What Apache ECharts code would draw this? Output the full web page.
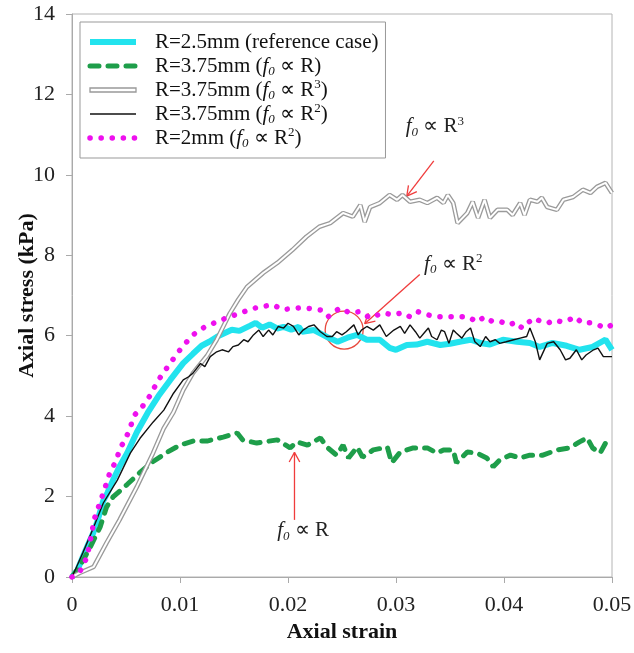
<!DOCTYPE html>
<html lang="en">
<head>
<meta charset="UTF-8">
<title>Axial stress - axial strain</title>
<script src="https://cdn.jsdelivr.net/npm/echarts@6/dist/echarts.min.js"></script>
<style>
    html,body{margin:0;padding:0;background:#fff;}
    #chart{width:634px;height:653px;}
</style>
</head>
<body>
<div id="chart"></div>
<script>
    'use strict';
    // [axial strain, axial stress (kPa)]
    var refCase = [[0,0],[0.0005,0.17],[0.001,0.5],[0.0014,0.75],[0.0019,1.05],[0.0023,1.34],[0.0029,1.9],[0.0033,2.1],
        [0.0038,2.41],[0.0044,2.75],[0.0051,3.08],[0.006,3.6],[0.007,4.08],[0.008,4.5],[0.0091,4.9],[0.0103,5.32],
        [0.0112,5.55],[0.012,5.75],[0.0127,5.85],[0.0134,5.97],[0.014,6.05],[0.0148,6.15],[0.0155,6.12],[0.0165,6.25],
        [0.017,6.32],[0.0176,6.2],[0.0183,6.28],[0.019,6.18],[0.0196,6.22],[0.0203,6.15],[0.021,6.22],[0.0213,6.1],
        [0.0224,6.14],[0.0236,5.97],[0.0246,5.85],[0.0255,5.95],[0.0264,6.02],[0.0273,5.9],[0.0285,5.9],[0.0294,5.7],
        [0.03,5.65],[0.031,5.77],[0.0319,5.78],[0.0329,5.85],[0.0341,5.77],[0.035,5.8],[0.0359,5.85],[0.0369,5.9],
        [0.0378,5.82],[0.0387,5.78],[0.0399,5.9],[0.0412,5.85],[0.0424,5.82],[0.0433,5.72],[0.0445,5.82],[0.0458,5.75],
        [0.047,5.65],[0.0482,5.72],[0.0494,5.9],[0.05,5.65]];
    var fR = [[0,0],[0.0007,0.25],[0.0017,0.75],[0.0026,1.24],[0.0032,1.74],[0.0038,1.99],[0.0051,2.3],[0.0063,2.6],
        [0.0075,2.87],[0.0088,3.1],[0.01,3.28],[0.0112,3.38],[0.0125,3.38],[0.014,3.48],[0.0153,3.58],[0.0158,3.41],
        [0.0171,3.33],[0.019,3.41],[0.0202,3.21],[0.0208,3.36],[0.0218,3.28],[0.023,3.46],[0.0236,3.23],[0.0245,3.03],
        [0.0251,3.28],[0.0256,2.96],[0.0264,3.23],[0.0269,2.98],[0.0279,3.16],[0.0292,3.23],[0.0296,2.84],[0.0304,3.11],
        [0.0316,3.21],[0.0329,3.21],[0.0338,3.08],[0.0344,3.16],[0.0353,3.16],[0.0356,2.84],[0.0366,3.11],[0.0375,3.08],
        [0.0384,2.96],[0.039,2.74],[0.0396,2.91],[0.0406,3.03],[0.0415,2.96],[0.0424,3.03],[0.0436,3.03],[0.0449,3.16],
        [0.0461,3.21],[0.047,3.36],[0.0477,3.46],[0.0482,3.21],[0.0489,3.08],[0.0494,3.33],[0.05,3.2]];
    var fR3 = [[0,0],[0.0007,0.1],[0.002,0.25],[0.0032,0.85],[0.0044,1.42],[0.006,2.24],[0.0075,3.08],[0.0085,3.7],
        [0.0094,4.1],[0.0103,4.65],[0.0112,5.07],[0.0125,5.5],[0.0134,5.9],[0.0146,6.55],[0.0154,6.9],[0.0162,7.21],
        [0.0177,7.56],[0.019,7.81],[0.0204,8.13],[0.0217,8.46],[0.0229,8.71],[0.0239,8.8],[0.0251,9.05],[0.026,8.96],
        [0.0267,9.25],[0.0271,8.83],[0.0276,9.2],[0.0285,9.3],[0.0294,9.5],[0.0301,9.38],[0.0306,9.5],[0.0313,9.33],
        [0.0322,9.38],[0.0329,9.3],[0.0338,9.43],[0.0344,9.3],[0.0348,9.5],[0.0353,9.3],[0.0357,8.8],[0.0366,9.05],
        [0.0371,9.33],[0.0376,8.93],[0.0382,9.38],[0.0387,8.93],[0.0394,9.13],[0.0403,9.13],[0.0408,9.0],[0.0415,9.3],
        [0.0419,9.0],[0.0424,9.38],[0.0431,9.33],[0.0435,9.43],[0.044,9.2],[0.0449,9.13],[0.0455,9.38],[0.0464,9.45],
        [0.0473,9.63],[0.048,9.55],[0.0486,9.7],[0.0494,9.8],[0.05,9.55]];
    var fR2 = [[0,0],[0.0005,0.3],[0.001,0.6],[0.0019,1.17],[0.0029,1.84],[0.0042,2.41],[0.0054,3.08],[0.0063,3.45],
        [0.0075,3.85],[0.0085,4.15],[0.0094,4.57],[0.0103,4.9],[0.0108,4.98],[0.0112,5.07],[0.0119,5.31],[0.0123,5.23],
        [0.0128,5.48],[0.0134,5.6],[0.0139,5.65],[0.0145,5.6],[0.0149,5.73],[0.0154,5.77],[0.0159,5.9],[0.0163,5.85],
        [0.0168,6.02],[0.0173,6.14],[0.0177,5.98],[0.0182,6.14],[0.0186,6.02],[0.0191,6.23],[0.0196,6.19],[0.02,6.31],
        [0.0205,6.23],[0.021,6.02],[0.0214,6.14],[0.0219,6.23],[0.0224,6.27],[0.023,6.1],[0.0236,5.98],[0.0241,5.98],
        [0.0245,6.1],[0.025,6.02],[0.0254,6.1],[0.0261,6.27],[0.0265,6.02],[0.0268,6.14],[0.0273,6.23],[0.0279,6.14],
        [0.0285,6.27],[0.0291,5.98],[0.0298,6.14],[0.0304,6.23],[0.0308,6.06],[0.0313,6.27],[0.0318,6.1],[0.0322,5.94],
        [0.0327,6.1],[0.033,6.19],[0.0333,5.98],[0.0338,5.9],[0.0342,6.14],[0.0345,6.1],[0.0349,5.81],[0.0353,6.14],
        [0.0356,6.06],[0.0361,5.94],[0.0365,6.1],[0.0369,6.19],[0.0373,5.85],[0.0378,5.73],[0.0383,5.98],[0.0387,5.85],
        [0.0392,5.9],[0.0396,5.81],[0.0402,5.85],[0.0409,5.9],[0.0415,5.94],[0.0421,5.98],[0.0424,6.19],[0.0429,5.85],
        [0.0433,5.4],[0.044,5.81],[0.0446,5.85],[0.0452,5.65],[0.0457,5.4],[0.0461,5.44],[0.0467,5.65],[0.0472,5.4],
        [0.0476,5.52],[0.0483,5.65],[0.0487,5.69],[0.0492,5.48],[0.05,5.48]];
    var r2mm = [[0,0],[0.0007,0.12],[0.0014,0.5],[0.0017,0.92],[0.0021,1.47],[0.0029,2.09],[0.0035,2.59],[0.0041,2.9],
        [0.0044,3.16],[0.0052,3.58],[0.0058,4.03],[0.0065,4.23],[0.0072,4.5],[0.008,4.9],[0.0091,5.32],[0.0102,5.72],
        [0.0112,6.02],[0.0123,6.22],[0.0139,6.4],[0.0156,6.57],[0.0171,6.7],[0.0186,6.77],[0.0195,6.65],[0.0214,6.7],
        [0.023,6.64],[0.0237,6.47],[0.0248,6.69],[0.0257,6.57],[0.0267,6.6],[0.0276,6.44],[0.0288,6.57],[0.0297,6.52],
        [0.0306,6.57],[0.0313,6.47],[0.032,6.6],[0.0329,6.52],[0.0338,6.47],[0.035,6.47],[0.0359,6.47],[0.0367,6.47],
        [0.0375,6.34],[0.0382,6.47],[0.039,6.34],[0.0398,6.34],[0.0406,6.27],[0.041,6.34],[0.0417,6.19],[0.0422,6.32],
        [0.0428,6.44],[0.0435,6.34],[0.0441,6.32],[0.0447,6.39],[0.0454,6.34],[0.046,6.39],[0.0466,6.47],[0.0472,6.32],
        [0.048,6.32],[0.0487,6.27],[0.0494,6.19],[0.05,6.27]];

    var seriesNames = ['R=2.5mm (reference case)', 'R=3.75mm (f0 ∝ R)', 'R=3.75mm (f0 ∝ R3)', 'R=3.75mm (f0 ∝ R2)', 'R=2mm (f0 ∝ R2)'];
    var legendLabels = ['R=2.5mm (reference case)', 'R=3.75mm ({i|f}{s|0} ∝ R)', 'R=3.75mm ({i|f}{s|0} ∝ R{p|3})',
        'R=3.75mm ({i|f}{s|0} ∝ R{p|2})', 'R=2mm ({i|f}{s|0} ∝ R{p|2})'];

    // annotations: [label, label pos, arrow tail, arrow tip]
    var notes = [
        ['{i|f}{s|0} ∝ R{p|3}', [0.0336, 11.2], [0.0335, 10.35], [0.031, 9.47]],
        ['{i|f}{s|0} ∝ R{p|2}', [0.0353, 7.78], [0.0322, 7.52], [0.0271, 6.3]],
        ['{i|f}{s|0} ∝ R', [0.0214, 1.15], [0.0206, 1.42], [0.0206, 3.1]]
    ];
    var circleAt = [0.0252, 6.14];

    var FONT = '"Liberation Serif","Times New Roman",serif';
    var rich = {
        i: {fontFamily: FONT, fontStyle: 'italic', fontSize: 21, lineHeight: 24},
        s: {fontFamily: FONT, fontStyle: 'italic', fontSize: 13, verticalAlign: 'bottom', lineHeight: 24},
        p: {fontFamily: FONT, fontSize: 13, verticalAlign: 'top', lineHeight: 24}
    };

    var chart = echarts.init(document.getElementById('chart'));
    var option = {
        animation: false,
        backgroundColor: '#fff',
        grid: {left: 72, right: 22, top: 14, bottom: 76, show: true, borderColor: '#b4b4b4', borderWidth: 1,
            outerBoundsMode: 'none'},
        legend: {
            orient: 'vertical', left: 80, top: 22, padding: [8, 7, 8, 7],
            itemWidth: 46, itemHeight: 14, itemGap: 0,
            backgroundColor: '#fff', borderColor: '#999', borderWidth: 1,
            itemStyle: {opacity: 0},
            textStyle: {fontFamily: FONT, fontSize: 21, color: '#111', lineHeight: 24, padding: [0, 0, 0, 14], rich: rich},
            formatter: function (name) { return legendLabels[seriesNames.indexOf(name)]; },
            data: [
                {name: seriesNames[0], lineStyle: {width: 6}},
                {name: seriesNames[1], lineStyle: {width: 5}},
                {name: seriesNames[2], icon: 'path://M0,0 L46,0 L46,4 L0,4 Z',
                    itemStyle: {color: '#fff', borderColor: '#999', borderWidth: 1.3, opacity: 1}},
                {name: seriesNames[3], lineStyle: {width: 1.5}},
                {name: seriesNames[4], lineStyle: {width: 5.5}}
            ]
        },
        xAxis: {
            type: 'value', min: 0, max: 0.05, interval: 0.01,
            name: 'Axial strain', nameLocation: 'middle', nameGap: 43,
            nameTextStyle: {fontFamily: FONT, fontWeight: 'bold', fontSize: 22, color: '#111'},
            axisLine: {lineStyle: {color: '#aaa'}},
            axisTick: {length: 6, lineStyle: {color: '#aaa'}},
            axisLabel: {fontFamily: FONT, fontSize: 22, color: '#222', margin: 17,
                formatter: function (v) { return v === 0 ? '0' : String(+v.toFixed(2)); }},
            splitLine: {show: false}
        },
        yAxis: {
            type: 'value', min: 0, max: 14, interval: 2,
            name: 'Axial stress (kPa)', nameLocation: 'middle', nameGap: 34, nameMoveOverlap: false,
            nameTextStyle: {fontFamily: FONT, fontWeight: 'bold', fontSize: 22, color: '#111'},
            axisLine: {show: true, lineStyle: {color: '#aaa'}},
            axisTick: {show: true, length: 6, lineStyle: {color: '#aaa'}},
            axisLabel: {fontFamily: FONT, fontSize: 22, color: '#222', margin: 17},
            splitLine: {show: false}
        },
        series: [
            {name: seriesNames[0], type: 'line', data: refCase, showSymbol: false, symbol: 'none', color: '#22e3ee',
                lineStyle: {color: '#22e3ee', width: 6}},
            {name: seriesNames[1], type: 'line', data: fR, showSymbol: false, symbol: 'none', color: '#1e9e4a',
                lineStyle: {color: '#1e9e4a', width: 5, type: [9, 9], cap: 'round'}},
            {name: seriesNames[2], type: 'line', data: fR3, showSymbol: false, symbol: 'none', color: '#999',
                lineStyle: {color: '#9a9a9a', width: 4.6}},
            {name: 'R3 core', type: 'line', data: fR3, showSymbol: false, symbol: 'none', color: '#fff',
                lineStyle: {color: '#fff', width: 2}},
            {name: seriesNames[3], type: 'line', data: fR2, showSymbol: false, symbol: 'none', color: '#111',
                lineStyle: {color: '#111', width: 1.4}},
            {name: seriesNames[4], type: 'line', data: r2mm, showSymbol: false, symbol: 'none', color: '#ee10ee',
                lineStyle: {color: '#ee10ee', width: 5.5, type: [0.1, 11], cap: 'round'}}
        ]
    };
    chart.setOption(option);

    function px(p) { return chart.convertToPixel({gridIndex: 0}, p); }
    var graphics = [];
    notes.forEach(function (n) {
        var c = px(n[1]), a = px(n[2]), b = px(n[3]);
        graphics.push({type: 'text', x: c[0], y: c[1],
            style: {text: n[0], fontFamily: FONT, fontSize: 21, fill: '#222', align: 'center', verticalAlign: 'middle', rich: rich}});
        graphics.push({type: 'line', shape: {x1: a[0], y1: a[1], x2: b[0], y2: b[1]}, style: {stroke: '#f03c3c', lineWidth: 1.3}});
        var dx = b[0] - a[0], dy = b[1] - a[1], len = Math.sqrt(dx * dx + dy * dy);
        dx /= len; dy /= len;
        [0.5, -0.5].forEach(function (ang) {
            var cs = Math.cos(ang), sn = Math.sin(ang);
            var hx = -(dx * cs - dy * sn) * 11, hy = -(dx * sn + dy * cs) * 11;
            graphics.push({type: 'line', shape: {x1: b[0], y1: b[1], x2: b[0] + hx, y2: b[1] + hy},
                style: {stroke: '#f03c3c', lineWidth: 1.3}});
        });
    });
    var cc = px(circleAt);
    graphics.push({type: 'circle', shape: {cx: cc[0], cy: cc[1], r: 19}, style: {fill: 'none', stroke: '#e8483c', lineWidth: 1.3}});
    chart.setOption({graphic: graphics});
</script>
</body>
</html>
